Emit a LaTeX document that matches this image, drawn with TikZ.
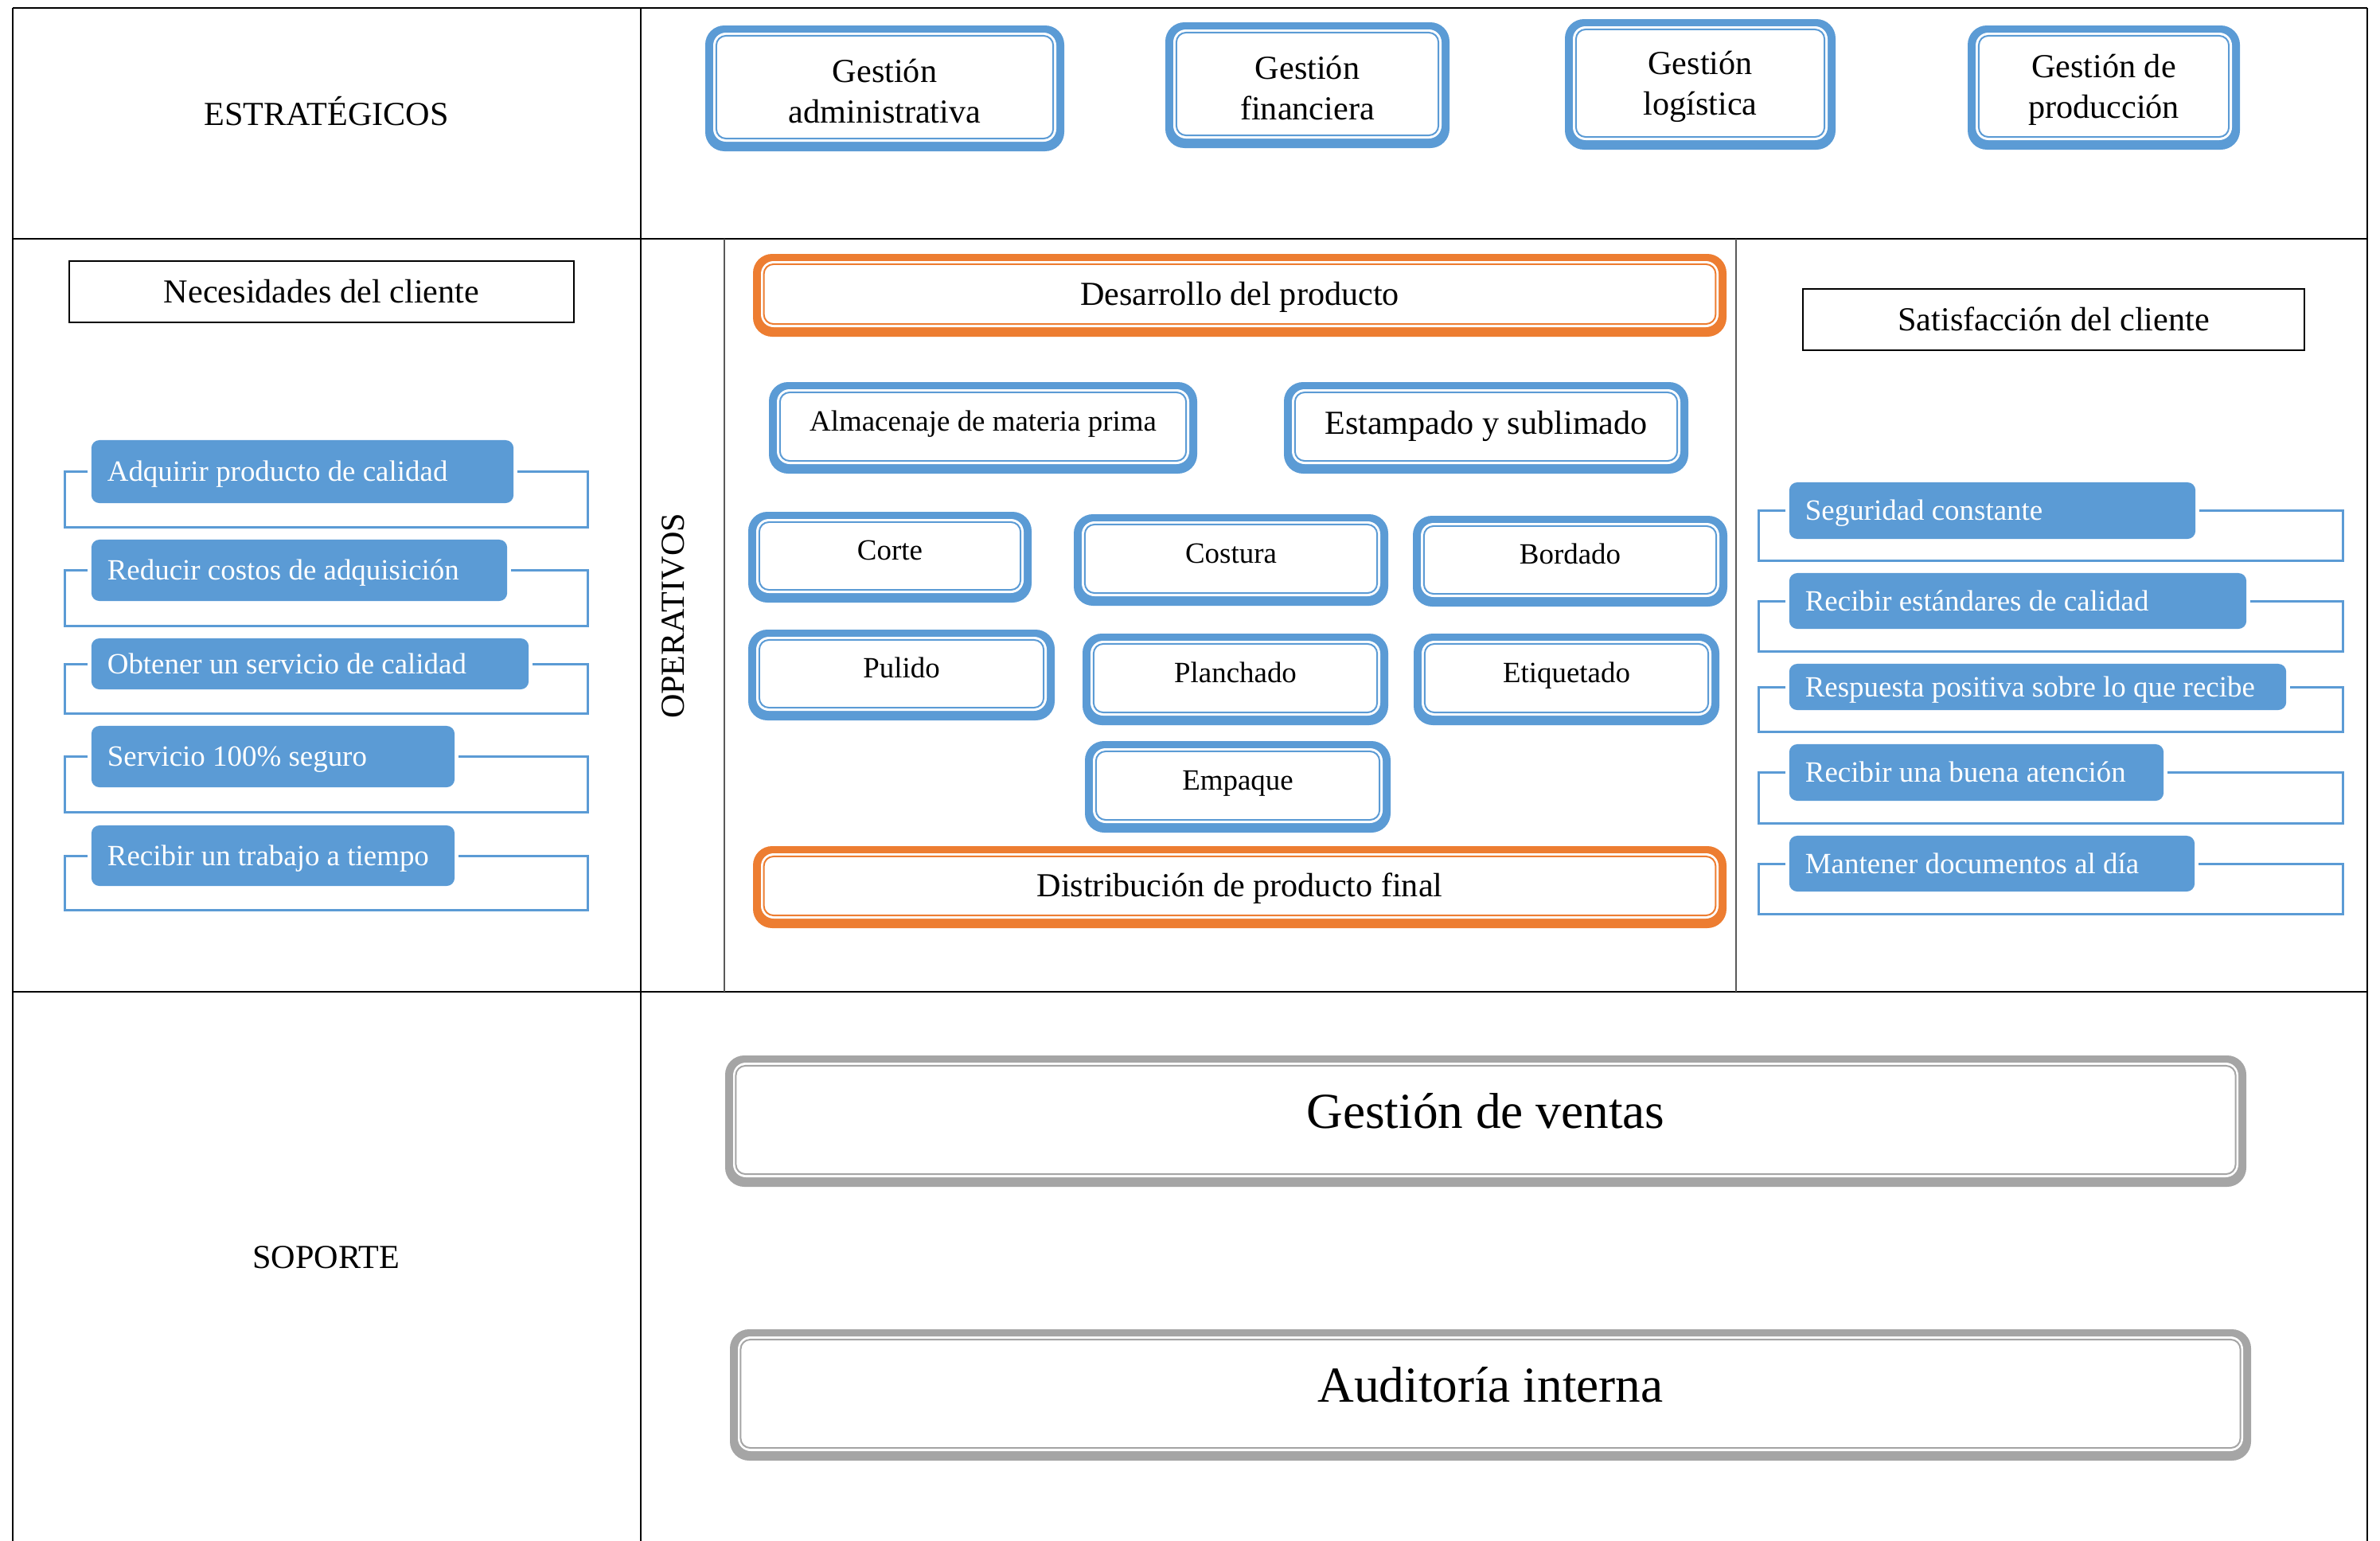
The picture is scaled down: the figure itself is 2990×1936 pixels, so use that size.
\documentclass[tikz,border=0pt]{standalone}
\usepackage{fontspec}
\setmainfont{Liberation Serif}
\usetikzlibrary{calc}
\definecolor{bl}{HTML}{5B9BD5}
\definecolor{orng}{HTML}{ED7D31}
\definecolor{gry}{HTML}{A5A5A5}
\tikzset{
  tline/.style={black, line width=0.02cm},
  gline/.style={black!65, line width=0.025cm},
  fsA/.style={font=\fontsize{12}{14.5}\selectfont},
  fsB/.style={font=\fontsize{10.5}{12.6}\selectfont},
  fsC/.style={font=\fontsize{18}{21}\selectfont},
  capA/.style={text height=7.9pt, text depth=0pt},
  capAu/.style={text height=7.9pt, text depth=2.6pt},
  capB/.style={text height=6.9pt, text depth=0pt},
  capBu/.style={text height=6.9pt, text depth=4pt},
  capCu/.style={text height=11.9pt, text depth=5.7pt},
  inl/.style={line width=0.02cm, rounded corners=0.12cm, inner sep=0},
  brk/.style={bl, line width=0.03cm},
  itembox/.style={fill=bl, rounded corners=0.1cm, text=white, fsB, capB, inner xsep=0.2cm, inner ysep=0},
  hdr/.style={draw=black, line width=0.025cm, fsA, capA, inner sep=0},
  lbl/.style={fsA, capA, inner sep=0},
}
\newcommand{\topstrut}{\rule{0pt}{11pt}}
% double framed box: name, colour, x1, y1, x2, y2, node options, text
\newcommand{\dbox}[8]{%
  \fill[#2, rounded corners=0.24cm] (#3,#4) rectangle (#5,#6);
  \fill[white, rounded corners=0.16cm] ({#3+10},{#4+9}) rectangle ({#5-10},{#6-12});
  \pgfmathsetmacro\dbw{(#5-#3-28)*0.284528}%
  \pgfmathsetmacro\dbh{(#6-#4-29)*0.284528}%
  \node[draw=#2, inl, minimum width=\dbw pt, minimum height=\dbh pt, #7] (#1) at ({(#3+#5)/2},{(#4+#6)/2-1.5}) {#8};
}
% list item with bracket: name, x1, y1, x2, y2, bracket left, bracket right, bracket bottom, text
\newcommand{\litem}[9]{%
  \pgfmathsetmacro\liW{(#4-#2)*0.284528}%
  \pgfmathsetmacro\liH{(#5-#3)*0.284528}%
  \pgfmathsetmacro\liT{(#4-#2-40)*0.284528}%
  \node[itembox, minimum width=\liW pt, minimum height=\liH pt] (#1) at ({(#2+#4)/2},{(#3+#5)/2}) {\makebox[\liT pt][l]{#9}};
  \draw[brk] ($(#1.west)+(-4,0)$) -- (#6,{(#3+#5)/2}) -- (#6,#8) -- (#7,#8) -- (#7,{(#3+#5)/2}) -- ($(#1.east)+(4,0)$);
}
\begin{document}
\begin{tikzpicture}[x=0.01cm, y=-0.01cm]
\useasboundingbox (0,0) rectangle (2990,1936);
% table grid
\draw[tline] (16,10) -- (2974,10);
\draw[tline] (16,300) -- (2974,300);
\draw[tline] (16,1246) -- (2974,1246);
\draw[tline] (16,10) -- (16,1936);
\draw[tline] (2974,10) -- (2974,1936);
\draw[tline] (805,10) -- (805,1936);
\draw[gline] (910,300) -- (910,1246);
\draw[gline] (2181,300) -- (2181,1246);
% row labels
\node[lbl] (estr) at (410,143.5) {ESTRATÉGICOS};
\node[lbl, rotate=90] (oper) at (846,774) {OPERATIVOS};
\node[lbl] (sopo) at (410,1580) {SOPORTE};
% strategic
\dbox{gadm}{bl}{886}{32}{1337}{190}{fsA, align=center}{\topstrut Gestión\\administrativa}
\dbox{gfin}{bl}{1464}{28}{1821}{186}{fsA, align=center}{\topstrut Gestión\\financiera}
\dbox{glog}{bl}{1966}{24}{2306}{188}{fsA, align=center}{\topstrut Gestión\\logística}
\dbox{gprod}{bl}{2472}{32}{2814}{188}{fsA, align=center}{\topstrut Gestión de\\producción}
% operative
\dbox{desa}{orng}{946}{319}{2169}{423}{fsA, capA}{Desarrollo del producto}
\dbox{alma}{bl}{966}{480}{1504}{595}{fsB, capBu}{Almacenaje de materia prima}
\dbox{esta}{bl}{1613}{480}{2121}{595}{fsA, capAu}{Estampado y sublimado}
\dbox{corte}{bl}{940}{643}{1296}{757}{fsB, capBu}{Corte}
\dbox{cost}{bl}{1349}{646}{1744}{761}{fsB, capBu}{Costura}
\dbox{bord}{bl}{1775}{648}{2170}{762}{fsB, capBu}{Bordado}
\dbox{puli}{bl}{940}{791}{1325}{905}{fsB, capBu}{Pulido}
\dbox{plan}{bl}{1360}{796}{1744}{911}{fsB, capBu}{Planchado}
\dbox{etiq}{bl}{1776}{796}{2160}{911}{fsB, capBu}{Etiquetado}
\dbox{empa}{bl}{1363}{931}{1747}{1046}{fsB, capBu}{Empaque}
\dbox{dist}{orng}{946}{1063}{2169}{1166}{fsA, capA}{Distribución de producto final}
% support
\dbox{vent}{gry}{911}{1326}{2822}{1491}{fsC, capCu}{Gestión de ventas}
\dbox{audi}{gry}{917}{1670}{2828}{1835}{fsC, capCu}{Auditoría interna}
% customer needs
\node[hdr, minimum width=180.4pt, minimum height=21.9pt] (nec) at (404,366.5) {Necesidades del cliente};
\litem{n1}{115}{553}{645}{632}{81}{738}{662}{Adquirir producto de calidad}
\litem{n2}{115}{678}{637}{755}{81}{738}{786}{Reducir costos de adquisición}
\litem{n3}{115}{802}{664}{866}{81}{738}{896}{Obtener un servicio de calidad}
\litem{n4}{115}{912}{571}{989}{81}{738}{1020}{Servicio 100\% seguro}
\litem{n5}{115}{1037}{571}{1113}{81}{738}{1143}{Recibir un trabajo a tiempo}
% customer satisfaction
\node[hdr, minimum width=179.25pt, minimum height=21.9pt] (sat) at (2580,401.5) {Satisfacción del cliente};
\litem{s1}{2248}{606}{2758}{677}{2209}{2943}{704}{Seguridad constante}
\litem{s2}{2248}{720}{2822}{790}{2209}{2943}{818}{Recibir estándares de calidad}
\litem{s3}{2248}{834}{2872}{892}{2209}{2943}{919}{Respuesta positiva sobre lo que recibe}
\litem{s4}{2248}{935}{2718}{1006}{2209}{2943}{1034}{Recibir una buena atención}
\litem{s5}{2248}{1050}{2757}{1120}{2209}{2943}{1148}{Mantener documentos al día}
\end{tikzpicture}
\end{document}
